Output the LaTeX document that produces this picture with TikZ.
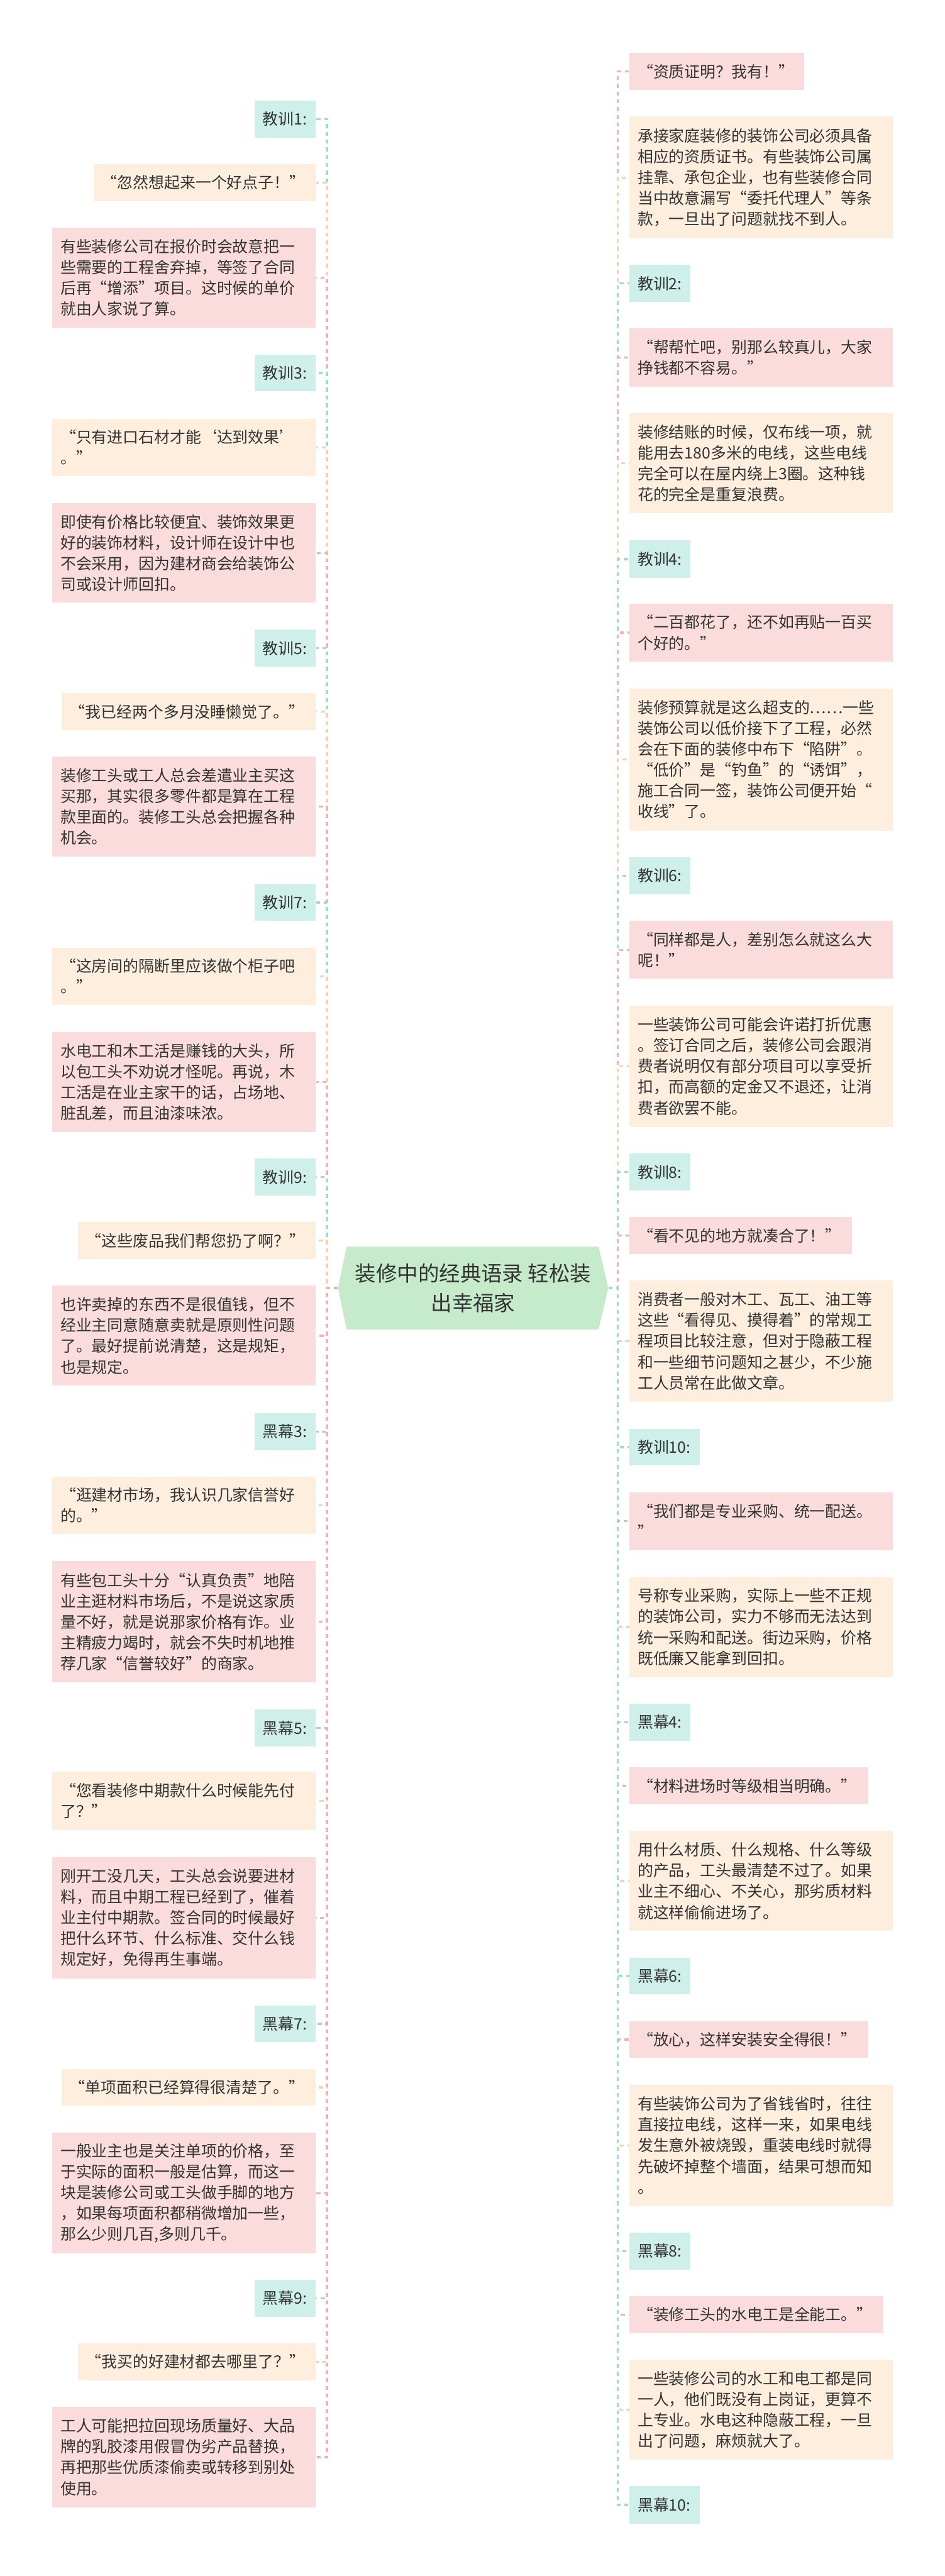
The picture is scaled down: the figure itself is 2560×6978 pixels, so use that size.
\documentclass[tikz,border=0pt]{standalone}
\usepackage{fontspec}
\setmainfont{Noto Sans CJK SC}
\usepackage{tikz}
\usetikzlibrary{calc}
\definecolor{inkgray}{HTML}{333333}
\definecolor{tealfill}{HTML}{CFF0EA}
\definecolor{peachfill}{HTML}{FDEEDD}
\definecolor{pinkfill}{HTML}{FADCDC}
\definecolor{rootfill}{HTML}{C6EBCB}
\definecolor{tealline}{HTML}{9EDCD2}
\definecolor{peachline}{HTML}{F6D2AE}
\definecolor{pinkline}{HTML}{F2B2B5}
\tikzset{
  card/.style={inner xsep=5.5pt, inner ysep=0pt, align=left, text=inkgray,
    font={\fontsize{10.6pt}{14.1pt}\selectfont}},
  tagcard/.style={card, fill=tealfill},
  peachcard/.style={card, fill=peachfill},
  pinkcard/.style={card, fill=pinkfill},
  hub/.style={inner sep=0pt, align=center, text=inkgray, minimum height=56pt,
    font={\fontsize{14.25pt}{20pt}\selectfont}},
  spoke/.style={line width=1.4pt, dash pattern=on 2.75pt off 2.5pt}
}
% box from (x1,y1) to (x2,y2), image pixels
\newcommand\cardat[7]{%
  \pgfmathsetmacro\cardw{(#5-#3)*0.25}%
  \pgfmathsetmacro\cardh{(#6-#4)*0.25}%
  \pgfmathsetmacro\cardt{(#5-#3)*0.25-11}%
  \node[#2, anchor=north west, minimum width=\cardw pt, minimum height=\cardh pt,
    text width=\cardt pt] (#1) at (#3,#4) {#7};}

\begin{document}
\begin{tikzpicture}[x=0.25pt, y=-0.25pt]
	%%%%% START %%%%%
	\useasboundingbox (0,0) rectangle (2560,6978);
	\fill[white] (0,0) rectangle (2560,6978);
	
	\fill[rootfill] (939,3377) -- (1622,3377) -- (1648,3489) -- (1622,3601) -- (939,3601) -- (916,3489) -- cycle;
	\node[hub, minimum width=183pt] (root) at (1282,3489) {装修中的经典语录 轻松装\\出幸福家};
	\coordinate (spL) at (886,3489);
	\coordinate (spR) at (1674,3489);
	
	%%%%% LEFT %%%%%
	\cardat{l1}{tagcard}{689}{272}{855}{372}{教训1:}
	\cardat{l1q}{peachcard}{253}{444}{855}{544}{“忽然想起来一个好点子！”}
	\cardat{l1e}{pinkcard}{141}{616}{855}{887}{有些装修公司在报价时会故意把一\\些需要的工程舍弃掉，等签了合同\\后再“增添”项目。这时候的单价\\就由人家说了算。}
	
	\cardat{l3}{tagcard}{689}{960}{855}{1059}{教训3:}
	\cardat{l3q}{peachcard}{141}{1133}{855}{1289}{“只有进口石材才能‘达到效果’\\。”}
	\cardat{l3e}{pinkcard}{141}{1362}{855}{1632}{即使有价格比较便宜、装饰效果更\\好的装饰材料，设计师在设计中也\\不会采用，因为建材商会给装饰公\\司或设计师回扣。}
	
	\cardat{l5}{tagcard}{689}{1705}{855}{1805}{教训5:}
	\cardat{l5q}{peachcard}{166}{1877}{855}{1977}{“我已经两个多月没睡懒觉了。”}
	\cardat{l5e}{pinkcard}{141}{2049}{855}{2320}{装修工头或工人总会差遣业主买这\\买那，其实很多零件都是算在工程\\款里面的。装修工头总会把握各种\\机会。}
	
	\cardat{l7}{tagcard}{689}{2394}{855}{2494}{教训7:}
	\cardat{l7q}{peachcard}{141}{2566}{855}{2722}{“这房间的隔断里应该做个柜子吧\\。”}
	\cardat{l7e}{pinkcard}{141}{2795}{855}{3066}{水电工和木工活是赚钱的大头，所\\以包工头不劝说才怪呢。再说，木\\工活是在业主家干的话，占场地、\\脏乱差，而且油漆味浓。}
	
	\cardat{l9}{tagcard}{689}{3138}{855}{3238}{教训9:}
	\cardat{l9q}{peachcard}{210}{3310}{855}{3410}{“这些废品我们帮您扔了啊？”}
	\cardat{l9e}{pinkcard}{141}{3482}{855}{3753}{也许卖掉的东西不是很值钱，但不\\经业主同意随意卖就是原则性问题\\了。最好提前说清楚，这是规矩，\\也是规定。}
	
	\cardat{h3}{tagcard}{689}{3827}{855}{3927}{黑幕3:}
	\cardat{h3q}{peachcard}{141}{3999}{855}{4155}{“逛建材市场，我认识几家信誉好\\的。”}
	\cardat{h3e}{pinkcard}{141}{4228}{855}{4557}{有些包工头十分“认真负责”地陪\\业主逛材料市场后，不是说这家质\\量不好，就是说那家价格有诈。业\\主精疲力竭时，就会不失时机地推\\荐几家“信誉较好”的商家。}
	
	\cardat{h5}{tagcard}{689}{4630}{855}{4730}{黑幕5:}
	\cardat{h5q}{peachcard}{141}{4799}{855}{4956}{“您看装修中期款什么时候能先付\\了？”}
	\cardat{h5e}{pinkcard}{141}{5030}{855}{5358}{刚开工没几天，工头总会说要进材\\料，而且中期工程已经到了，催着\\业主付中期款。签合同的时候最好\\把什么环节、什么标准、交什么钱\\规定好，免得再生事端。}
	
	\cardat{h7}{tagcard}{689}{5432}{855}{5531}{黑幕7:}
	\cardat{h7q}{peachcard}{166}{5604}{855}{5703}{“单项面积已经算得很清楚了。”}
	\cardat{h7e}{pinkcard}{141}{5776}{855}{6104}{一般业主也是关注单项的价格，至\\于实际的面积一般是估算，而这一\\块是装修公司或工头做手脚的地方\\，如果每项面积都稍微增加一些，\\那么少则几百,多则几千。}
	
	\cardat{h9}{tagcard}{689}{6175}{855}{6275}{黑幕9:}
	\cardat{h9q}{peachcard}{210}{6347}{855}{6447}{“我买的好建材都去哪里了？”}
	\cardat{h9e}{pinkcard}{141}{6519}{855}{6791}{工人可能把拉回现场质量好、大品\\牌的乳胶漆用假冒伪劣产品替换，\\再把那些优质漆偷卖或转移到别处\\使用。}
	
	%%%%% RIGHT %%%%%
	\cardat{r1q}{pinkcard}{1705}{143}{2178}{243}{“资质证明？我有！”}
	\cardat{r1e}{peachcard}{1705}{315}{2418}{645}{承接家庭装修的装饰公司必须具备\\相应的资质证书。有些装饰公司属\\挂靠、承包企业，也有些装修合同\\当中故意漏写“委托代理人”等条\\款，一旦出了问题就找不到人。}
	
	\cardat{r2}{tagcard}{1705}{717}{1870}{817}{教训2:}
	\cardat{r2q}{pinkcard}{1705}{889}{2418}{1047}{“帮帮忙吧，别那么较真儿，大家\\挣钱都不容易。”}
	\cardat{r2e}{peachcard}{1705}{1119}{2418}{1390}{装修结账的时候，仅布线一项，就\\能用去180多米的电线，这些电线\\完全可以在屋内绕上3圈。这种钱\\花的完全是重复浪费。}
	
	\cardat{r4}{tagcard}{1705}{1463}{1870}{1564}{教训4:}
	\cardat{r4q}{pinkcard}{1705}{1635}{2418}{1791}{“二百都花了，还不如再贴一百买\\个好的。”}
	\cardat{r4e}{peachcard}{1705}{1864}{2418}{2249}{装修预算就是这么超支的……一些\\装饰公司以低价接下了工程，必然\\会在下面的装修中布下“陷阱”。\\“低价”是“钓鱼”的“诱饵”，\\施工合同一签，装饰公司便开始“\\收线”了。}
	
	\cardat{r6}{tagcard}{1705}{2321}{1870}{2421}{教训6:}
	\cardat{r6q}{pinkcard}{1705}{2494}{2418}{2650}{“同样都是人，差别怎么就这么大\\呢！”}
	\cardat{r6e}{peachcard}{1705}{2723}{2418}{3052}{一些装饰公司可能会许诺打折优惠\\。签订合同之后，装修公司会跟消\\费者说明仅有部分项目可以享受折\\扣，而高额的定金又不退还，让消\\费者欲罢不能。}
	
	\cardat{r8}{tagcard}{1705}{3124}{1870}{3224}{教训8:}
	\cardat{r8q}{pinkcard}{1705}{3296}{2308}{3396}{“看不见的地方就凑合了！”}
	\cardat{r8e}{peachcard}{1705}{3468}{2418}{3796}{消费者一般对木工、瓦工、油工等\\这些“看得见、摸得着”的常规工\\程项目比较注意，但对于隐蔽工程\\和一些细节问题知之甚少，不少施\\工人员常在此做文章。}
	
	\cardat{r10}{tagcard}{1705}{3869}{1896}{3969}{教训10:}
	\cardat{r10q}{pinkcard}{1705}{4041}{2418}{4198}{“我们都是专业采购、统一配送。\\”}
	\cardat{r10e}{peachcard}{1705}{4271}{2418}{4542}{号称专业采购，实际上一些不正规\\的装饰公司，实力不够而无法达到\\统一采购和配送。街边采购，价格\\既低廉又能拿到回扣。}
	
	\cardat{g4}{tagcard}{1705}{4614}{1870}{4714}{黑幕4:}
	\cardat{g4q}{pinkcard}{1705}{4787}{2352}{4887}{“材料进场时等级相当明确。”}
	\cardat{g4e}{peachcard}{1705}{4959}{2418}{5230}{用什么材质、什么规格、什么等级\\的产品，工头最清楚不过了。如果\\业主不细心、不关心，那劣质材料\\就这样偷偷进场了。}
	
	\cardat{g6}{tagcard}{1705}{5302}{1870}{5402}{黑幕6:}
	\cardat{g6q}{pinkcard}{1705}{5474}{2352}{5574}{“放心，这样安装安全得很！”}
	\cardat{g6e}{peachcard}{1705}{5646}{2418}{5975}{有些装饰公司为了省钱省时，往往\\直接拉电线，这样一来，如果电线\\发生意外被烧毁，重装电线时就得\\先破坏掉整个墙面，结果可想而知\\。}
	
	\cardat{g8}{tagcard}{1705}{6047}{1870}{6147}{黑幕8:}
	\cardat{g8q}{pinkcard}{1705}{6219}{2392}{6319}{“装修工头的水电工是全能工。”}
	\cardat{g8e}{peachcard}{1705}{6391}{2418}{6662}{一些装修公司的水工和电工都是同\\一人，他们既没有上岗证，更算不\\上专业。水电这种隐蔽工程，一旦\\出了问题，麻烦就大了。}
	
	\cardat{g10}{tagcard}{1705}{6734}{1896}{6835}{黑幕10:}
	
	%%%%% LINKS %%%%%
	\foreach \n/\c in {l1/tealline, l1q/peachline, l1e/pinkline, l3/tealline, l3q/peachline, l3e/pinkline,
	  l5/tealline, l5q/peachline, l5e/pinkline, l7/tealline, l7q/peachline, l7e/pinkline,
	  l9/tealline, l9q/peachline, l9e/pinkline, h3/tealline, h3q/peachline, h3e/pinkline,
	  h5/tealline, h5q/peachline, h5e/pinkline, h7/tealline, h7q/peachline, h7e/pinkline,
	  h9/tealline, h9q/peachline, h9e/pinkline}
	  \draw[spoke, \c] (root.west) -- (spL) |- (\n.east);
	\foreach \n/\c in {r1q/pinkline, r1e/peachline, r2/tealline, r2q/pinkline, r2e/peachline,
	  r4/tealline, r4q/pinkline, r4e/peachline, r6/tealline, r6q/pinkline, r6e/peachline,
	  r8/tealline, r8q/pinkline, r8e/peachline, r10/tealline, r10q/pinkline, r10e/peachline,
	  g4/tealline, g4q/pinkline, g4e/peachline, g6/tealline, g6q/pinkline, g6e/peachline,
	  g8/tealline, g8q/pinkline, g8e/peachline, g10/tealline}
	  \draw[spoke, \c] (root.east) -- (spR) |- (\n.west);
	
	%%%%% END %%%%%
\end{tikzpicture}
\end{document}
